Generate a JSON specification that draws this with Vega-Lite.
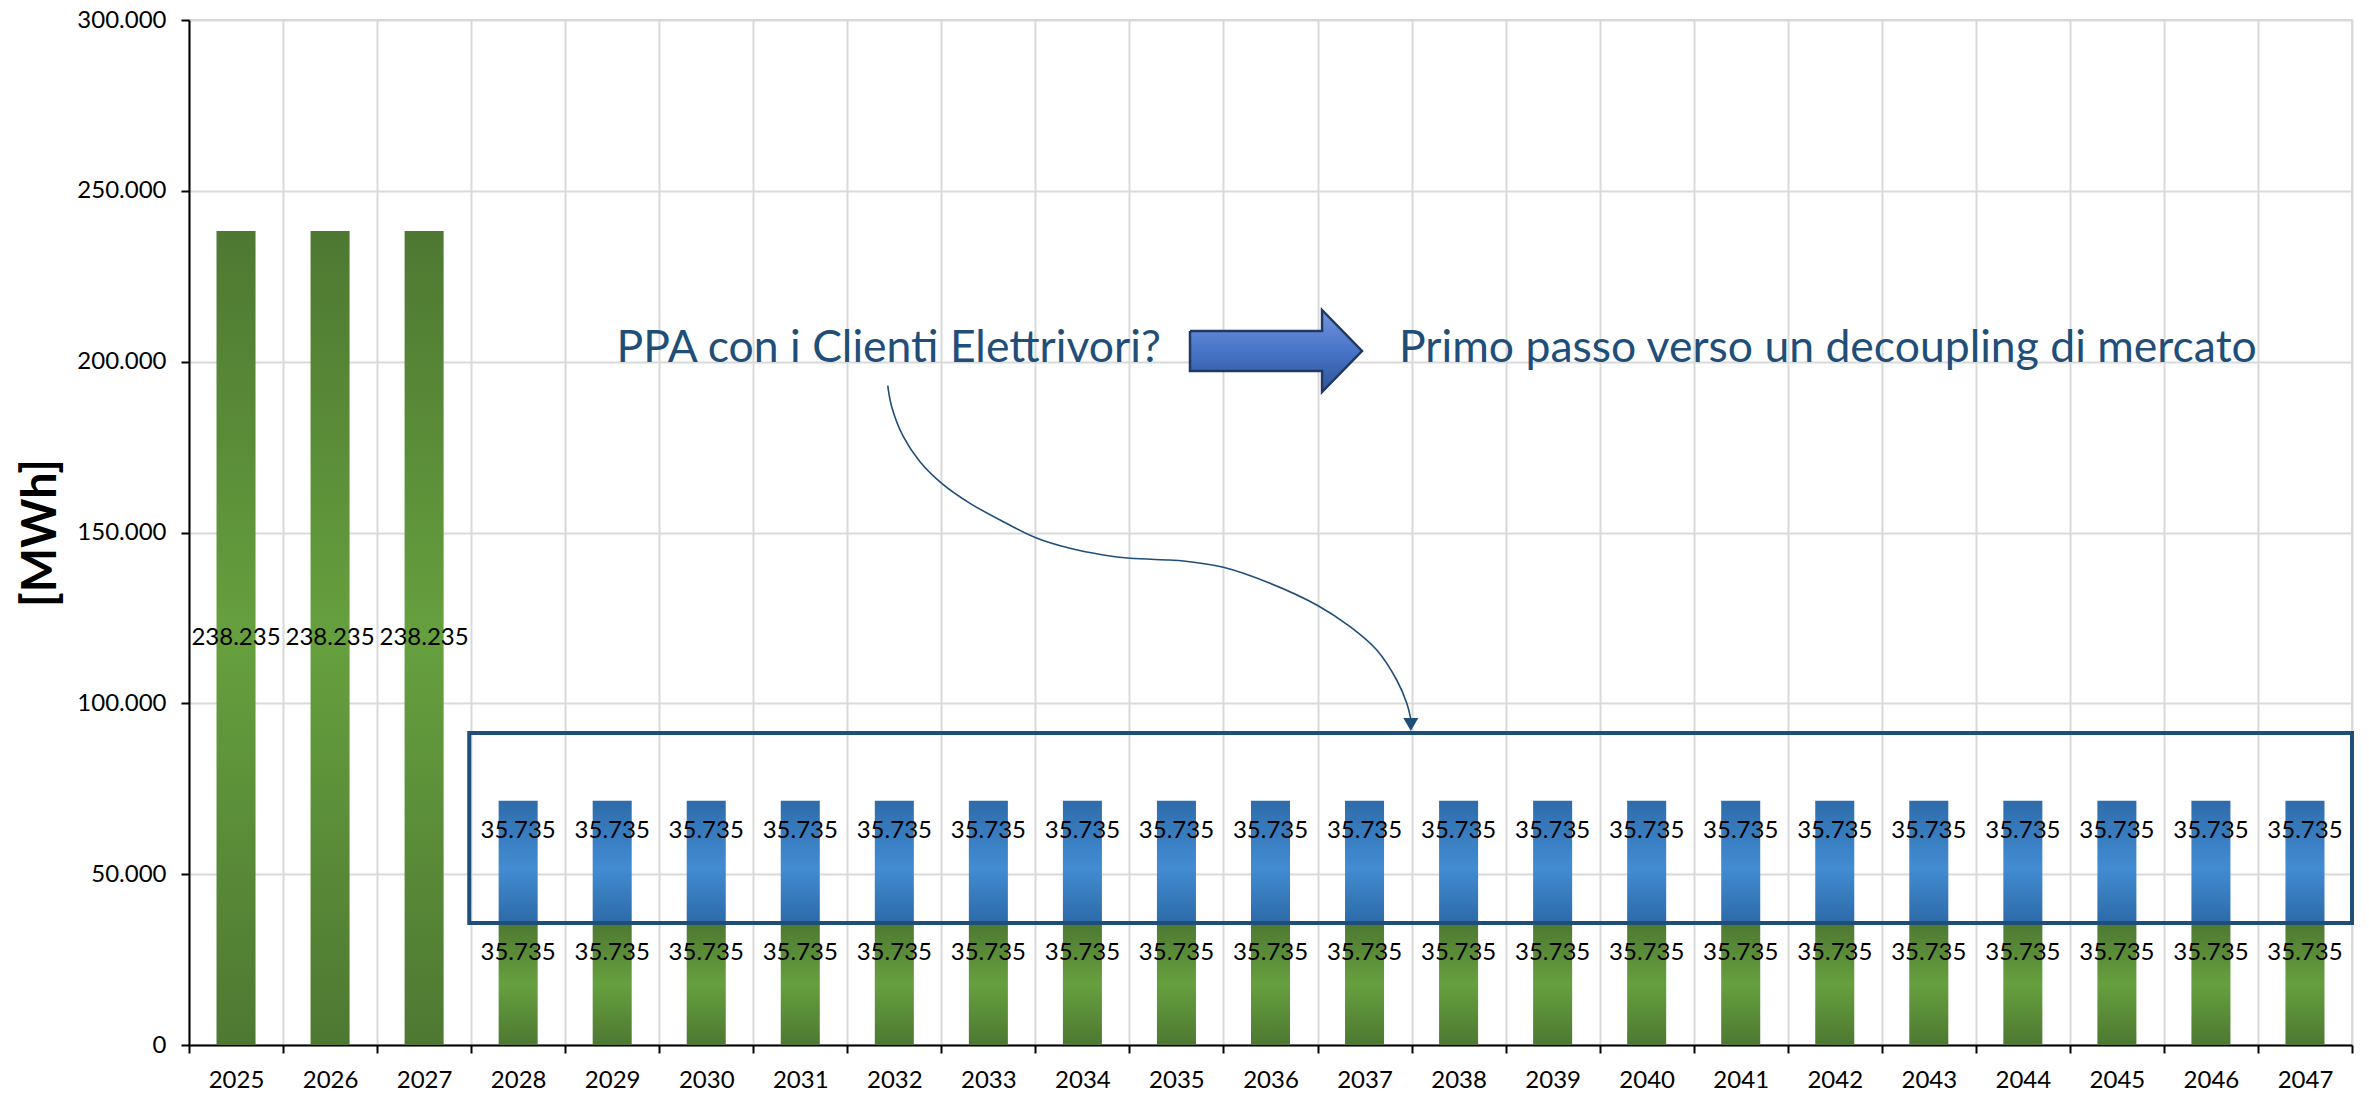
{
  "$schema": "https://vega.github.io/schema/vega-lite/v6.json",
  "width": 2163,
  "height": 1025,
  "autosize": "none",
  "padding": {"left": 189, "top": 20, "right": 17, "bottom": 48},
  "background": "white",
  "config": {
    "view": {"stroke": "#d9d9d9", "strokeWidth": 2},
    "font": "Lato",
    "axis": {
      "labelFont": "Lato",
      "labelFontSize": 24,
      "labelColor": "black",
      "tickColor": "black",
      "tickSize": 8,
      "tickWidth": 2,
      "domainColor": "black",
      "domainWidth": 2,
      "gridColor": "#d9d9d9",
      "gridWidth": 2
    }
  },
  "datasets": {
    "bars": [
      {"year": "2025", "series": "verde", "value": 238235},
      {"year": "2026", "series": "verde", "value": 238235},
      {"year": "2027", "series": "verde", "value": 238235},
      {"year": "2028", "series": "verde", "value": 35735}, {"year": "2028", "series": "blu", "value": 35735},
      {"year": "2029", "series": "verde", "value": 35735}, {"year": "2029", "series": "blu", "value": 35735},
      {"year": "2030", "series": "verde", "value": 35735}, {"year": "2030", "series": "blu", "value": 35735},
      {"year": "2031", "series": "verde", "value": 35735}, {"year": "2031", "series": "blu", "value": 35735},
      {"year": "2032", "series": "verde", "value": 35735}, {"year": "2032", "series": "blu", "value": 35735},
      {"year": "2033", "series": "verde", "value": 35735}, {"year": "2033", "series": "blu", "value": 35735},
      {"year": "2034", "series": "verde", "value": 35735}, {"year": "2034", "series": "blu", "value": 35735},
      {"year": "2035", "series": "verde", "value": 35735}, {"year": "2035", "series": "blu", "value": 35735},
      {"year": "2036", "series": "verde", "value": 35735}, {"year": "2036", "series": "blu", "value": 35735},
      {"year": "2037", "series": "verde", "value": 35735}, {"year": "2037", "series": "blu", "value": 35735},
      {"year": "2038", "series": "verde", "value": 35735}, {"year": "2038", "series": "blu", "value": 35735},
      {"year": "2039", "series": "verde", "value": 35735}, {"year": "2039", "series": "blu", "value": 35735},
      {"year": "2040", "series": "verde", "value": 35735}, {"year": "2040", "series": "blu", "value": 35735},
      {"year": "2041", "series": "verde", "value": 35735}, {"year": "2041", "series": "blu", "value": 35735},
      {"year": "2042", "series": "verde", "value": 35735}, {"year": "2042", "series": "blu", "value": 35735},
      {"year": "2043", "series": "verde", "value": 35735}, {"year": "2043", "series": "blu", "value": 35735},
      {"year": "2044", "series": "verde", "value": 35735}, {"year": "2044", "series": "blu", "value": 35735},
      {"year": "2045", "series": "verde", "value": 35735}, {"year": "2045", "series": "blu", "value": 35735},
      {"year": "2046", "series": "verde", "value": 35735}, {"year": "2046", "series": "blu", "value": 35735},
      {"year": "2047", "series": "verde", "value": 35735}, {"year": "2047", "series": "blu", "value": 35735}
    ],
    "curve": [
      {"i": 1, "x": 2031.930, "y": 192964},
      {"i": 2, "x": 2031.972, "y": 186818},
      {"i": 3, "x": 2032.096, "y": 178037},
      {"i": 4, "x": 2032.273, "y": 170720},
      {"i": 5, "x": 2032.504, "y": 164398},
      {"i": 6, "x": 2032.805, "y": 158545},
      {"i": 7, "x": 2033.159, "y": 153159},
      {"i": 8, "x": 2033.504, "y": 148477},
      {"i": 9, "x": 2033.868, "y": 145374},
      {"i": 10, "x": 2034.222, "y": 143413},
      {"i": 11, "x": 2034.506, "y": 142447},
      {"i": 12, "x": 2034.932, "y": 141950},
      {"i": 13, "x": 2035.073, "y": 141657},
      {"i": 14, "x": 2035.499, "y": 139813},
      {"i": 15, "x": 2035.995, "y": 135130},
      {"i": 16, "x": 2036.492, "y": 128779},
      {"i": 17, "x": 2036.846, "y": 122428},
      {"i": 18, "x": 2037.130, "y": 115609},
      {"i": 19, "x": 2037.342, "y": 106828},
      {"i": 20, "x": 2037.449, "y": 100009},
      {"i": 21, "x": 2037.489, "y": 95706}
    ],
    "arrow": [
      {"i": 0, "x": 2035.144, "y": 208976},
      {"i": 1, "x": 2036.548, "y": 208976},
      {"i": 2, "x": 2036.548, "y": 215122},
      {"i": 3, "x": 2036.973, "y": 203122},
      {"i": 4, "x": 2036.548, "y": 191122},
      {"i": 5, "x": 2036.548, "y": 197268},
      {"i": 6, "x": 2035.144, "y": 197268},
      {"i": 7, "x": 2035.144, "y": 208976}
    ]
  },
  "resolve": {"scale": {"x": "independent"}},
  "layer": [
    {
      "data": {"name": "bars"},
      "transform": [
        {"stack": "value", "groupby": ["year"], "sort": [{"field": "series", "order": "descending"}], "as": ["y0", "y1"]},
        {"calculate": "(datum.y0 + datum.y1) / 2", "as": "mid"},
        {"calculate": "replace(format(datum.value, ',.0f'), ',', '.')", "as": "lbl"}
      ],
      "encoding": {
        "x": {
          "field": "year",
          "type": "ordinal",
          "scale": {"paddingInner": 0, "paddingOuter": 0},
          "axis": {"title": null, "labelAngle": 0, "tickBand": "extent", "grid": true, "labelPadding": 15}
        }
      },
      "layer": [
        {
          "transform": [{"filter": "datum.series == 'verde'"}],
          "mark": {
            "type": "bar",
            "width": {"band": 0.415},
            "fill": {
              "gradient": "linear", "x1": 0, "y1": 0, "x2": 0, "y2": 1,
              "stops": [
                {"offset": 0, "color": "#4e7832"},
                {"offset": 0.5, "color": "#66a03e"},
                {"offset": 1, "color": "#4e7832"}
              ]
            }
          },
          "encoding": {
            "y": {
              "field": "y1",
              "type": "quantitative",
              "title": "[MWh]",
              "scale": {"domain": [0, 300000], "nice": false},
              "axis": {
                "values": [0, 50000, 100000, 150000, 200000, 250000, 300000],
                "labelExpr": "replace(format(datum.value, ',.0f'), ',', '.')",
                "labelPadding": 15,
                "grid": true,
                "titleFont": "Lato",
                "titleFontSize": 47,
                "titleFontWeight": "bold",
                "titleColor": "black",
                "titleX": -134,
                "titleBaseline": "alphabetic"
              }
            },
            "y2": {"field": "y0"}
          }
        },
        {
          "transform": [{"filter": "datum.series == 'blu'"}],
          "mark": {
            "type": "bar",
            "width": {"band": 0.415},
            "fill": {
              "gradient": "linear", "x1": 0, "y1": 0, "x2": 0, "y2": 1,
              "stops": [
                {"offset": 0, "color": "#2e6caa"},
                {"offset": 0.55, "color": "#428cd2"},
                {"offset": 1, "color": "#2d6aa8"}
              ]
            }
          },
          "encoding": {
            "y": {"field": "y1", "type": "quantitative", "title": "[MWh]", "scale": {"domain": [0, 300000], "nice": false}},
            "y2": {"field": "y0"}
          }
        }
      ]
    },
    {
      "layer": [
        {
          "data": {"values": [{}]},
          "mark": {"type": "rect", "filled": false, "stroke": "#1f4e79", "strokeWidth": 4},
          "encoding": {
            "x": {"datum": 2027.48, "type": "quantitative", "scale": {"domain": [2024.5, 2047.5], "nice": false, "zero": false}, "axis": null},
            "x2": {"datum": 2047.5},
            "y": {"datum": 35735, "type": "quantitative", "title": "[MWh]", "scale": {"domain": [0, 300000], "nice": false}},
            "y2": {"datum": 91300}
          }
        },
        {
          "data": {"name": "curve"},
          "mark": {"type": "line", "interpolate": "catmull-rom", "stroke": "#1f4e79", "strokeWidth": 1.6},
          "encoding": {
            "x": {"field": "x", "type": "quantitative", "scale": {"domain": [2024.5, 2047.5], "nice": false, "zero": false}, "axis": null},
            "y": {"field": "y", "type": "quantitative", "title": "[MWh]", "scale": {"domain": [0, 300000], "nice": false}},
            "order": {"field": "i", "type": "quantitative"}
          }
        },
        {
          "data": {"values": [{}]},
          "mark": {"type": "point", "shape": "triangle-down", "filled": true, "color": "#1f4e79", "size": 225, "opacity": 1},
          "encoding": {
            "x": {"datum": 2037.492, "type": "quantitative", "scale": {"domain": [2024.5, 2047.5], "nice": false, "zero": false}, "axis": null},
            "y": {"datum": 93804, "type": "quantitative", "title": "[MWh]", "scale": {"domain": [0, 300000], "nice": false}}
          }
        },
        {
          "data": {"name": "arrow"},
          "mark": {
            "type": "line",
            "interpolate": "linear",
            "stroke": "#1f3864",
            "strokeWidth": 2.5,
            "strokeJoin": "miter",
            "fill": {
              "gradient": "linear", "x1": 0, "y1": 0, "x2": 0, "y2": 1,
              "stops": [
                {"offset": 0, "color": "#7296db"},
                {"offset": 0.5, "color": "#4874c8"},
                {"offset": 1, "color": "#2f5597"}
              ]
            }
          },
          "encoding": {
            "x": {"field": "x", "type": "quantitative", "scale": {"domain": [2024.5, 2047.5], "nice": false, "zero": false}, "axis": null},
            "y": {"field": "y", "type": "quantitative", "title": "[MWh]", "scale": {"domain": [0, 300000], "nice": false}},
            "order": {"field": "i", "type": "quantitative"}
          }
        },
        {
          "data": {"values": [{}]},
          "mark": {"type": "text", "text": "PPA con i Clienti Elettrivori?", "font": "Lato", "fontSize": 44.5, "color": "#1f4e79", "align": "center", "baseline": "alphabetic"},
          "encoding": {
            "x": {"datum": 2031.94, "type": "quantitative", "scale": {"domain": [2024.5, 2047.5], "nice": false, "zero": false}, "axis": null},
            "y": {"datum": 200000, "type": "quantitative", "title": "[MWh]", "scale": {"domain": [0, 300000], "nice": false}}
          }
        },
        {
          "data": {"values": [{}]},
          "mark": {"type": "text", "text": "Primo passo verso un decoupling di mercato", "font": "Lato", "fontSize": 44.5, "color": "#1f4e79", "align": "left", "baseline": "alphabetic"},
          "encoding": {
            "x": {"datum": 2037.367, "type": "quantitative", "scale": {"domain": [2024.5, 2047.5], "nice": false, "zero": false}, "axis": null},
            "y": {"datum": 200000, "type": "quantitative", "title": "[MWh]", "scale": {"domain": [0, 300000], "nice": false}}
          }
        }
      ]
    },
    {
      "data": {"name": "bars"},
      "transform": [
        {"stack": "value", "groupby": ["year"], "sort": [{"field": "series", "order": "descending"}], "as": ["y0", "y1"]},
        {"calculate": "(datum.y0 + datum.y1) / 2", "as": "mid"},
        {"calculate": "replace(format(datum.value, ',.0f'), ',', '.')", "as": "lbl"}
      ],
      "layer": [
        {
          "transform": [{"filter": "toNumber(datum.year) <= 2027"}],
          "mark": {"type": "text", "font": "Lato", "fontSize": 24, "color": "black", "baseline": "middle"},
          "encoding": {
            "x": {"field": "year", "type": "ordinal", "scale": {"paddingInner": 0, "paddingOuter": 0}, "axis": null},
            "y": {"field": "mid", "type": "quantitative", "title": "[MWh]", "scale": {"domain": [0, 300000], "nice": false}},
            "text": {"field": "lbl"}
          }
        },
        {
          "transform": [{"filter": "toNumber(datum.year) >= 2028"}],
          "mark": {"type": "text", "font": "Lato", "fontSize": 24, "color": "black", "baseline": "middle", "dy": -31},
          "encoding": {
            "x": {"field": "year", "type": "ordinal", "scale": {"paddingInner": 0, "paddingOuter": 0}, "axis": null},
            "y": {"field": "mid", "type": "quantitative", "title": "[MWh]", "scale": {"domain": [0, 300000], "nice": false}},
            "text": {"field": "lbl"}
          }
        }
      ]
    }
  ]
}
